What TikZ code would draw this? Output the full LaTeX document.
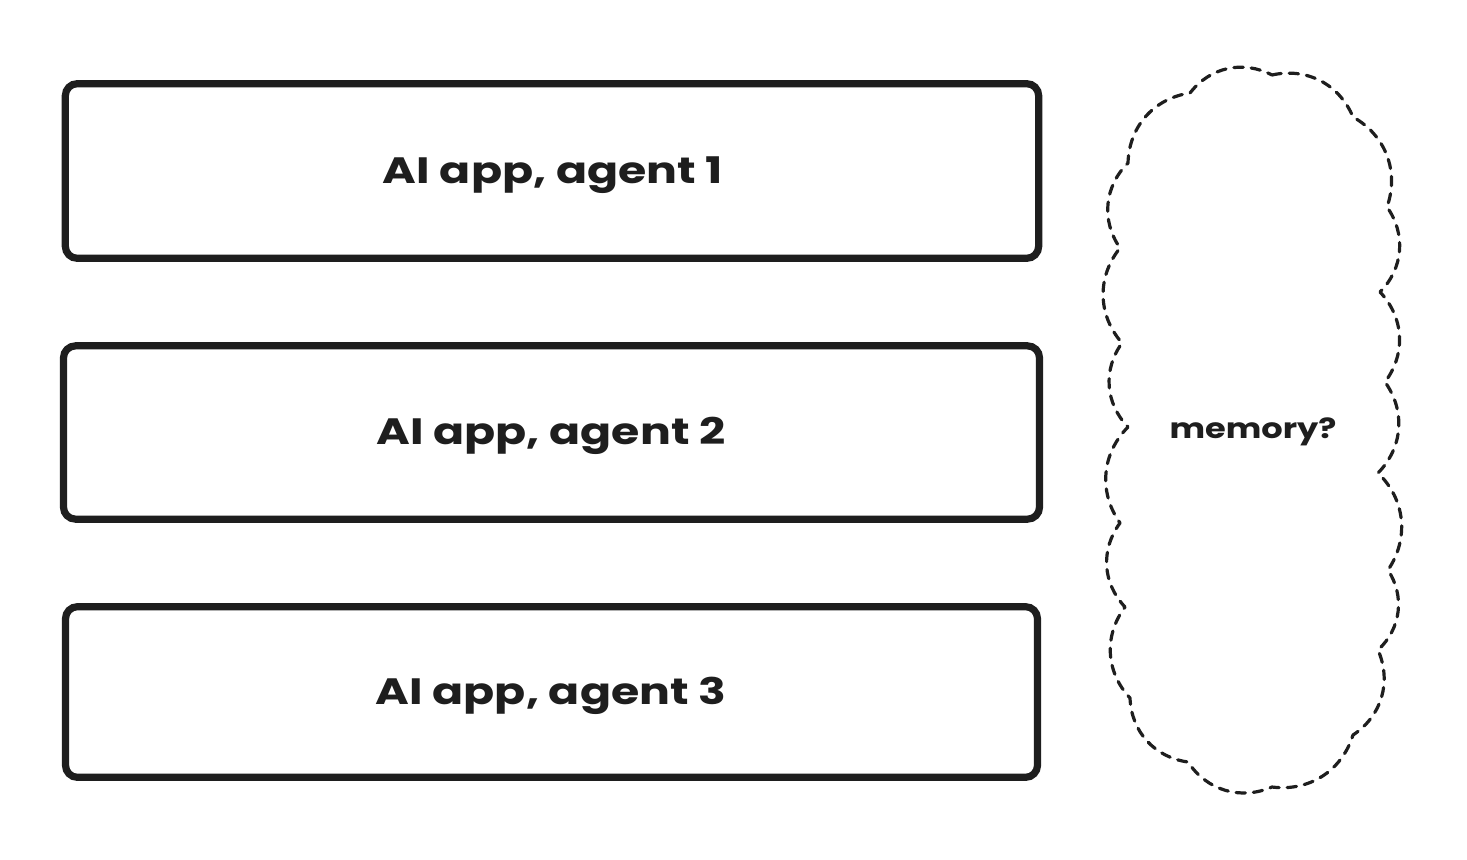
\documentclass[tikz,border=0pt]{standalone}
\usepackage{fontspec}
\usepackage{graphicx}
\setmainfont{Poppins}
\definecolor{ink}{HTML}{1E1E1E}
\newcommand{\widetext}[1]{\scalebox{1.25}[1]{#1}}
\tikzset{
  appbox/.style={draw=ink, line width=5.4pt, rounded corners=9pt, fill=white,
    font=\fontsize{27.5}{32}\selectfont\bfseries, text=ink, inner sep=0pt},
  cloudline/.style={draw=ink, line width=2.4pt, dash pattern=on 7pt off 6pt, line cap=round, line join=round},
  cloudlabel/.style={font=\fontsize{21}{25}\selectfont\bfseries, text=ink}
}
\begin{document}
\begin{tikzpicture}[x=0.75pt,y=-0.75pt]
\useasboundingbox (0,0) rectangle (1467,860);
\node[appbox, minimum width=730pt, minimum height=131pt] (a1) at (552,171) {};
\node[appbox, minimum width=732pt, minimum height=130pt] (a2) at (551.5,432.5) {};
\node[appbox, minimum width=729pt, minimum height=128pt] (a3) at (551.5,692) {};
\node[font=\fontsize{27.5}{32}\selectfont\bfseries, text=ink] (t1) at (553,175) {\widetext{AI app, agent 1}};
\node[font=\fontsize{27.5}{32}\selectfont\bfseries, text=ink] (t2) at (551,436) {\widetext{AI app, agent 2}};
\node[font=\fontsize{27.5}{32}\selectfont\bfseries, text=ink] (t3) at (551,696) {\widetext{AI app, agent 3}};
% cloud
\coordinate (c1) at (1272,75);
\coordinate (c2) at (1353,117);
\coordinate (c3) at (1387,207);
\coordinate (c4) at (1380,292);
\coordinate (c5) at (1385,382);
\coordinate (c6) at (1378,473);
\coordinate (c7) at (1388,570);
\coordinate (c8) at (1378,650);
\coordinate (c9) at (1353,735);
\coordinate (c10) at (1272,787);
\coordinate (c11) at (1188,762);
\coordinate (c12) at (1130,698);
\coordinate (c13) at (1125,607);
\coordinate (c14) at (1120,523);
\coordinate (c15) at (1128,427);
\coordinate (c16) at (1122,343);
\coordinate (c17) at (1120,248);
\coordinate (c18) at (1128,163);
\coordinate (c19) at (1190,93);
\draw[cloudline] (c1) to[bend left=40] (c2) to[bend left=40] (c3) to[bend left=40] (c4)
  to[bend left=40] (c5) to[bend left=40] (c6) to[bend left=40] (c7) to[bend left=40] (c8)
  to[bend left=40] (c9) to[bend left=40] (c10) to[bend left=40] (c11) to[bend left=40] (c12)
  to[bend left=40] (c13) to[bend left=40] (c14) to[bend left=40] (c15) to[bend left=40] (c16)
  to[bend left=40] (c17) to[bend left=40] (c18) to[bend left=40] (c19) to[bend left=40] (c1);
\node[cloudlabel] (mem) at (1253,432) {\scalebox{1.2}[1]{memory?}};
\end{tikzpicture}
\end{document}
